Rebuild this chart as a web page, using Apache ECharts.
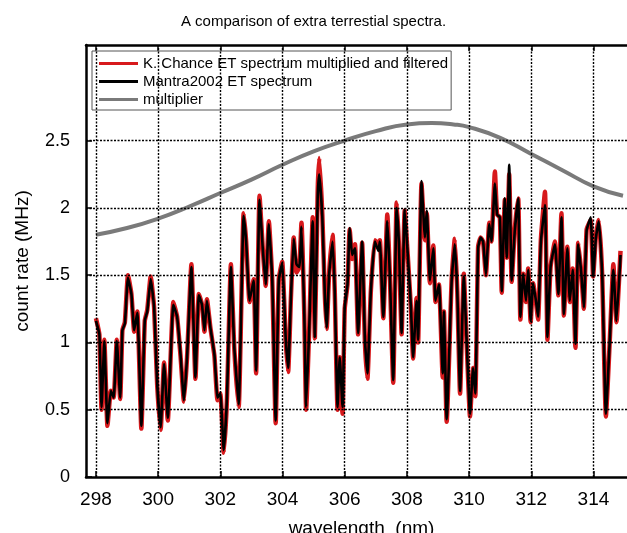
<!DOCTYPE html>
<html>
<head>
<meta charset="utf-8">
<script src="https://cdn.jsdelivr.net/npm/echarts@6/dist/echarts.min.js"></script>
<style>
  html, body { margin: 0; padding: 0; background: #fff; }
  #chart { width: 627px; height: 533px; }
</style>
</head>
<body>
<div id="chart"></div>
<script>
// wavelength (nm) of the spectrum samples
const wl = [
  298.00, 298.11, 298.18, 298.27, 298.37, 298.48, 298.57, 298.67, 298.78, 298.85,
  298.93, 299.03, 299.14, 299.23, 299.33, 299.46, 299.57, 299.65, 299.76, 299.87,
  299.97, 300.08, 300.19, 300.31, 300.49, 300.61, 300.72, 300.83, 300.93, 301.07,
  301.20, 301.31, 301.41, 301.49, 301.57, 301.68, 301.81, 301.91, 302.00, 302.11,
  302.21, 302.34, 302.45, 302.59, 302.75, 302.83, 302.94, 303.07, 303.15, 303.26,
  303.37, 303.46, 303.56, 303.67, 303.78, 303.88, 303.99, 304.06, 304.10, 304.18,
  304.27, 304.36, 304.45, 304.54, 304.61, 304.70, 304.76, 304.86, 304.97, 305.04,
  305.13, 305.18, 305.28, 305.36, 305.42, 305.50, 305.61, 305.68, 305.77, 305.84,
  305.93, 306.00, 306.09, 306.16, 306.24, 306.33, 306.43, 306.56, 306.65, 306.73,
  306.84, 306.97, 307.08, 307.13, 307.24, 307.37, 307.45, 307.56, 307.67, 307.74,
  307.83, 307.93, 308.04, 308.13, 308.20, 308.31, 308.36, 308.47, 308.58, 308.64,
  308.74, 308.85, 308.92, 309.03, 309.15, 309.19, 309.28, 309.44, 309.54, 309.62,
  309.71, 309.83, 309.92, 310.03, 310.13, 310.20, 310.29, 310.37, 310.45, 310.54,
  310.65, 310.72, 310.83, 310.90, 310.99, 311.05, 311.15, 311.21, 311.29, 311.37,
  311.47, 311.58, 311.65, 311.74, 311.83, 311.90, 311.98, 312.06, 312.15, 312.22,
  312.31, 312.44, 312.52, 312.62, 312.76, 312.87, 312.97, 313.05, 313.16, 313.24,
  313.33, 313.42, 313.51, 313.61, 313.69, 313.78, 313.91, 313.99, 314.08, 314.17,
  314.28, 314.40, 314.53, 314.64, 314.74, 314.87
];

// Mantra2002 ET spectrum (MHz)
const mantra = [
  1.16, 1.06, 0.52, 1.01, 0.40, 0.64, 0.59, 1.01, 0.59, 1.09,
  1.14, 1.48, 1.36, 1.09, 1.22, 0.38, 1.16, 1.23, 1.47, 1.26,
  0.69, 0.37, 0.84, 0.44, 1.28, 1.19, 0.91, 0.57, 0.89, 1.56,
  0.74, 1.35, 1.28, 1.09, 1.31, 1.11, 0.91, 0.59, 0.62, 0.20,
  0.57, 1.56, 0.96, 0.54, 1.94, 1.75, 1.31, 1.46, 0.79, 2.06,
  1.68, 1.43, 1.88, 1.46, 0.42, 1.46, 1.59, 1.28, 1.04, 0.81,
  1.33, 1.77, 1.58, 1.56, 1.86, 1.21, 0.52, 1.11, 1.90, 1.04,
  2.07, 2.25, 1.93, 1.36, 1.11, 1.51, 1.75, 1.38, 0.52, 0.89,
  0.52, 1.26, 1.43, 1.85, 1.65, 1.70, 1.07, 1.75, 1.02, 0.77,
  1.38, 1.75, 1.68, 1.75, 1.19, 1.90, 1.51, 0.72, 2.00, 1.75,
  1.07, 1.99, 1.61, 1.26, 0.89, 1.31, 1.02, 2.20, 1.78, 1.98,
  1.46, 1.70, 1.31, 1.43, 0.77, 1.23, 0.43, 1.46, 1.73, 1.38,
  0.64, 1.49, 1.02, 0.47, 0.81, 0.62, 1.70, 1.78, 1.75, 1.51,
  1.88, 1.75, 2.18, 1.95, 1.93, 1.38, 2.07, 1.63, 2.32, 1.46,
  1.83, 2.07, 1.19, 1.51, 1.31, 1.54, 1.16, 1.44, 1.31, 1.19,
  1.75, 2.02, 1.04, 1.56, 1.73, 1.36, 1.93, 1.21, 1.70, 1.31,
  1.54, 0.99, 1.73, 1.51, 1.26, 1.83, 1.93, 1.49, 1.78, 1.90,
  1.51, 0.47, 1.04, 1.54, 1.16, 1.65
];

// K. Chance ET spectrum multiplied and filtered (MHz)
const chance = [
  1.18, 1.06, 0.50, 1.02, 0.38, 0.64, 0.59, 1.02, 0.58, 1.09,
  1.15, 1.50, 1.36, 1.08, 1.23, 0.36, 1.16, 1.24, 1.49, 1.26,
  0.68, 0.35, 0.85, 0.42, 1.30, 1.19, 0.90, 0.56, 0.89, 1.58,
  0.73, 1.36, 1.28, 1.08, 1.32, 1.11, 0.90, 0.57, 0.62, 0.18,
  0.56, 1.58, 0.95, 0.52, 1.96, 1.75, 1.30, 1.47, 0.77, 2.09,
  1.68, 1.42, 1.90, 1.46, 0.40, 1.47, 1.60, 1.27, 1.02, 0.78,
  1.33, 1.78, 1.52, 1.56, 1.89, 1.21, 0.50, 1.11, 1.93, 1.03,
  2.12, 2.37, 1.95, 1.36, 1.10, 1.52, 1.80, 1.38, 0.50, 0.89,
  0.47, 1.25, 1.43, 1.84, 1.62, 1.73, 1.06, 1.74, 1.00, 0.73,
  1.38, 1.76, 1.73, 1.76, 1.18, 1.95, 1.51, 0.70, 2.04, 1.74,
  1.06, 1.98, 1.60, 1.25, 0.88, 1.33, 1.00, 2.18, 1.76, 1.96,
  1.44, 1.72, 1.30, 1.43, 0.74, 1.23, 0.41, 1.47, 1.77, 1.38,
  0.62, 1.51, 1.01, 0.45, 0.81, 0.60, 1.71, 1.78, 1.75, 1.50,
  1.89, 1.75, 2.27, 1.95, 1.93, 1.37, 2.06, 1.63, 2.25, 1.45,
  1.84, 2.07, 1.17, 1.51, 1.30, 1.55, 1.15, 1.44, 1.30, 1.17,
  1.77, 2.12, 1.02, 1.56, 1.75, 1.35, 1.96, 1.20, 1.71, 1.30,
  1.55, 0.96, 1.74, 1.51, 1.25, 1.84, 1.91, 1.49, 1.80, 1.91,
  1.50, 0.45, 1.04, 1.58, 1.15, 1.68
];

// multiplier curve
const multWl  = [298, 299, 300, 301, 302, 303, 304, 305, 306, 307, 308, 308.8, 309.5, 310, 311, 312, 313, 314, 314.95];
const multVal = [1.80, 1.85, 1.92, 2.01, 2.11, 2.21, 2.32, 2.42, 2.50, 2.57, 2.62, 2.63, 2.62, 2.60, 2.52, 2.40, 2.28, 2.16, 2.09];

// axis ticks
const xTicks = [298, 300, 302, 304, 306, 308, 310, 312, 314];
const yTicks = [0, 0.5, 1, 1.5, 2, 2.5];

const font = 'Liberation Sans, Arial, Helvetica, sans-serif';
const zip = (a, b) => a.map((v, i) => [v, b[i]]);

const gridLines = xTicks.map(v => ({ xAxis: v }))
  .concat(yTicks.filter(v => v > 0).map(v => ({ yAxis: v })));

const chart = echarts.init(document.getElementById('chart'), null, { renderer: 'canvas' });

chart.setOption({
  animation: false,
  backgroundColor: '#fff',
  title: {
    text: 'A comparison of extra terrestial spectra.',
    left: 'center',
    top: 9,
    textStyle: { fontFamily: font, fontSize: 15, fontWeight: 'normal', color: '#000' }
  },
  legend: {
    data: [
      { name: 'K. Chance ET spectrum multiplied and filtered', icon: 'rect', itemStyle: { color: '#d7191c' } },
      { name: 'Mantra2002 ET spectrum', icon: 'rect', itemStyle: { color: '#000' } },
      { name: 'multiplier', icon: 'rect', itemStyle: { color: '#7a7a7a' } }
    ],
    orient: 'vertical',
    left: 92,
    top: 51,
    itemWidth: 39,
    itemHeight: 3,
    itemGap: 1,
    padding: [4, 3, 2, 7],
    backgroundColor: '#fff',
    borderColor: '#555',
    borderWidth: 1,
    borderRadius: 0,
    selectedMode: false,
    textStyle: { fontFamily: font, fontSize: 15, color: '#000', lineHeight: 17, height: 17 }
  },
  grid: { left: 86, top: 45, right: -10, bottom: 56, outerBoundsMode: 'none', containLabel: false },
  xAxis: [{
    type: 'value',
    min: 297.68,
    max: 315.4,
    name: 'wavelength  (nm)',
    nameLocation: 'middle',
    nameGap: 42,
    nameTextStyle: { fontFamily: font, fontSize: 19, color: '#000' },
    axisLine: { show: true, onZero: false, lineStyle: { color: '#000', width: 2.5 } },
    axisTick: { show: true, inside: true, length: 6, customValues: xTicks, lineStyle: { color: '#000', width: 1.5 } },
    axisLabel: { customValues: xTicks, margin: 13, fontFamily: font, fontSize: 19, color: '#000' },
    splitLine: { show: false }
  }, {
    type: 'value',
    position: 'top',
    min: 297.68,
    max: 315.4,
    axisLine: { show: true, onZero: false, lineStyle: { color: '#000', width: 2.5 } },
    axisTick: { show: true, inside: true, length: 6, customValues: xTicks, lineStyle: { color: '#000', width: 1.5 } },
    axisLabel: { show: false },
    splitLine: { show: false }
  }],
  yAxis: {
    type: 'value',
    min: 0,
    max: 3.21,
    name: 'count rate (MHz)',
    nameLocation: 'middle',
    nameRotate: 90,
    nameGap: 54,
    nameTextStyle: { fontFamily: font, fontSize: 19, color: '#000' },
    axisLine: { show: true, onZero: false, lineStyle: { color: '#000', width: 2.5 } },
    axisTick: { show: true, inside: true, length: 6, customValues: yTicks, lineStyle: { color: '#000', width: 1.5 } },
    axisLabel: { customValues: yTicks, margin: 16, fontFamily: font, fontSize: 18, color: '#000' },
    splitLine: { show: false }
  },
  series: [
    {
      name: 'grid',
      type: 'line',
      data: [],
      silent: true,
      markLine: {
        silent: true,
        symbol: 'none',
        label: { show: false },
        lineStyle: { color: '#000', width: 1.4, type: [2, 1.5] },
        data: gridLines
      }
    },
    {
      name: 'K. Chance ET spectrum multiplied and filtered',
      type: 'line',
      data: zip(wl, chance),
      showSymbol: false,
      smooth: 0.15,
      lineStyle: { color: '#d7191c', width: 4.5 },
      itemStyle: { color: '#d7191c' }
    },
    {
      name: 'Mantra2002 ET spectrum',
      type: 'line',
      data: zip(wl, mantra),
      showSymbol: false,
      smooth: 0.15,
      lineStyle: { color: '#000', width: 2.6 },
      itemStyle: { color: '#000' }
    },
    {
      name: 'multiplier',
      type: 'line',
      data: zip(multWl, multVal),
      showSymbol: false,
      smooth: true,
      lineStyle: { color: '#7a7a7a', width: 4 },
      itemStyle: { color: '#7a7a7a' }
    }
  ]
});
</script>
</body>
</html>
